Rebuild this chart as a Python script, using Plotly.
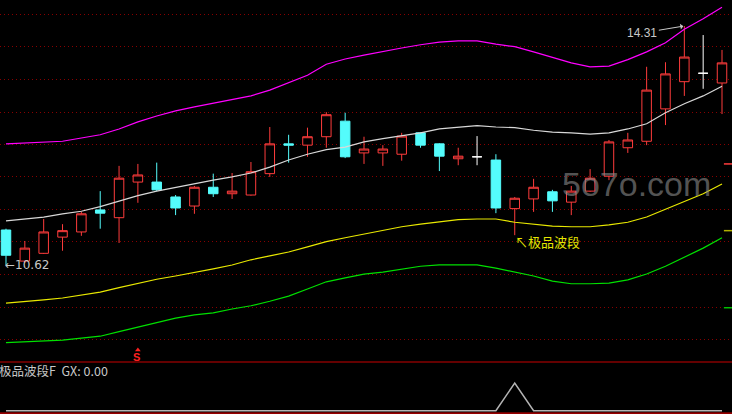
import plotly.graph_objects as go

# ---------------- data ----------------
idx = list(range(39))
open_ = [11.16, 10.68, 10.80, 11.05, 11.13, 11.47, 11.35, 11.90, 11.90, 11.67,
         11.53, 11.82, 11.72, 11.70, 12.03, 12.49, 12.47, 12.60, 12.84, 12.35,
         12.35, 12.33, 12.66, 12.49, 12.26, 12.29, 12.24, 11.49, 11.64, 11.75,
         11.59, 11.76, 11.99, 12.43, 12.53, 13.03, 13.45, 13.58, 13.43]
high = [11.18, 10.99, 11.33, 11.25, 11.44, 11.76, 12.15, 12.18, 12.20, 11.70,
        11.84, 12.03, 12.04, 12.21, 12.75, 12.63, 12.74, 12.98, 12.97, 12.60,
        12.47, 12.66, 12.67, 12.50, 12.43, 12.61, 12.33, 11.67, 11.95, 11.78,
        11.84, 12.10, 12.55, 12.66, 13.68, 13.75, 14.31, 14.17, 13.94]
low = [10.62, 10.65, 10.79, 10.84, 11.07, 11.18, 10.96, 11.58, 11.76, 11.39,
       11.41, 11.67, 11.64, 11.69, 11.98, 12.20, 12.29, 12.43, 12.27, 12.18,
       12.15, 12.23, 12.43, 12.07, 12.16, 12.16, 11.42, 11.08, 11.44, 11.44,
       11.39, 11.75, 11.93, 12.35, 12.47, 12.78, 13.23, 13.34, 12.95]
close = [10.77, 10.88, 11.13, 11.15, 11.41, 11.42, 11.96, 12.01, 11.78, 11.50,
         11.82, 11.72, 11.76, 12.06, 12.49, 12.47, 12.60, 12.94, 12.29, 12.41,
         12.41, 12.61, 12.47, 12.30, 12.30, 12.29, 11.50, 11.65, 11.82, 11.61,
         11.76, 11.96, 12.52, 12.55, 13.32, 13.57, 13.83, 13.58, 13.74]

mid_line = [11.30, 11.33, 11.36, 11.41, 11.45, 11.52, 11.61, 11.69, 11.76, 11.82,
            11.87, 11.93, 11.98, 12.04, 12.13, 12.24, 12.33, 12.40, 12.44, 12.52,
            12.57, 12.61, 12.66, 12.72, 12.75, 12.77, 12.75, 12.74, 12.70, 12.67,
            12.66, 12.64, 12.66, 12.72, 12.80, 12.97, 13.11, 13.23, 13.38]
upper_line = [12.49, 12.50, 12.52, 12.53, 12.58, 12.63, 12.72, 12.83, 12.92, 13.00,
              13.06, 13.12, 13.18, 13.23, 13.32, 13.43, 13.55, 13.72, 13.80, 13.86,
              13.92, 13.97, 14.02, 14.06, 14.08, 14.08, 14.03, 13.99, 13.91, 13.82,
              13.74, 13.68, 13.69, 13.79, 13.91, 14.05, 14.26, 14.42, 14.60]
lower_line = [10.03, 10.05, 10.08, 10.11, 10.16, 10.20, 10.27, 10.34, 10.40, 10.45,
              10.50, 10.56, 10.62, 10.70, 10.76, 10.82, 10.90, 10.98, 11.04, 11.10,
              11.15, 11.21, 11.25, 11.28, 11.32, 11.33, 11.33, 11.28, 11.25, 11.22,
              11.21, 11.21, 11.24, 11.28, 11.36, 11.48, 11.59, 11.72, 11.87]
bottom_line = [9.42, 9.43, 9.45, 9.46, 9.49, 9.52, 9.59, 9.66, 9.74, 9.80,
               9.85, 9.88, 9.94, 9.99, 10.06, 10.14, 10.25, 10.36, 10.42, 10.48,
               10.51, 10.56, 10.60, 10.62, 10.62, 10.62, 10.57, 10.51, 10.45, 10.37,
               10.33, 10.33, 10.34, 10.39, 10.48, 10.60, 10.74, 10.88, 11.04]
gx = [0] * 39
gx[27] = 1
sell_signal_idx = [7]

# short marks at the right edge (next-bar values)
edge_x = [38.1, 38.6]
edge_red = 12.18
edge_yellow = 11.15
edge_green = 9.96

grid_prices = [14.49, 13.99, 13.48, 12.98, 12.48, 11.98, 11.48, 10.98, 10.47, 9.97, 9.47]

# ---------------- figure ----------------
RED = "#ff3c3c"
CYAN = "#54fcfc"
W, H = 732, 414
split = 1 - 362 / H
ymin, ymax = 9.122, 14.711

fig = go.Figure()

groups = {"up": [], "down": [], "flat": []}
for i in idx:
    if close[i] > open_[i]:
        groups["up"].append(i)
    elif close[i] < open_[i]:
        groups["down"].append(i)
    else:
        groups["flat"].append(i)

styles = {"up": (RED, "#000000"), "down": (CYAN, CYAN), "flat": ("#ffffff", "#ffffff")}
for key, ids in groups.items():
    lc, fc = styles[key]
    fig.add_trace(go.Candlestick(
        x=ids,
        open=[open_[i] for i in ids], high=[high[i] for i in ids],
        low=[low[i] for i in ids], close=[close[i] for i in ids],
        increasing=dict(line=dict(color=lc, width=1), fillcolor=fc),
        decreasing=dict(line=dict(color=lc, width=1), fillcolor=fc),
        whiskerwidth=0, hoverinfo="skip", xaxis="x", yaxis="y",
    ))

for vals, col in [(upper_line, "#ff00ff"), (mid_line, "#d8d8d8"),
                  (lower_line, "#e8e800"), (bottom_line, "#00e000")]:
    fig.add_trace(go.Scatter(x=idx, y=vals, mode="lines",
                             line=dict(color=col, width=1.2),
                             hoverinfo="skip", xaxis="x", yaxis="y"))

for v, col in [(edge_red, "#ff3c3c"), (edge_yellow, "#b0b000"), (edge_green, "#00c000")]:
    fig.add_trace(go.Scatter(x=edge_x, y=[v, v], mode="lines",
                             line=dict(color=col, width=1.5),
                             hoverinfo="skip", xaxis="x", yaxis="y"))

# sell-signal cap (small triangle above the "S")
fig.add_trace(go.Scatter(x=sell_signal_idx, y=[ymin + (ymax - ymin) * (12 / 362)],
                         mode="markers",
                         marker=dict(symbol="triangle-up", size=5, color="#ff2020"),
                         hoverinfo="skip", xaxis="x", yaxis="y"))

fig.add_trace(go.Scatter(x=idx, y=gx, mode="lines",
                         line=dict(color="#b4b4b4", width=1.5),
                         hoverinfo="skip", xaxis="x2", yaxis="y2"))

xr = [-0.318, 38.53]
fig.update_layout(
    width=W, height=H, margin=dict(l=0, r=0, t=0, b=0),
    paper_bgcolor="#000000", plot_bgcolor="#000000",
    showlegend=False, boxgap=0.28,
    xaxis=dict(domain=[0, 1], range=xr, showgrid=False, zeroline=False,
               showticklabels=False, ticks="", rangeslider=dict(visible=False),
               anchor="y"),
    yaxis=dict(domain=[split, 1], range=[ymin, ymax], tickvals=grid_prices,
               showticklabels=False, ticks="", showgrid=True, gridcolor="#880000",
               griddash="1px,3px", gridwidth=1, zeroline=False),
    xaxis2=dict(domain=[0, 1], range=xr, showgrid=False, zeroline=False,
                showticklabels=False, ticks="", anchor="y2", matches="x"),
    yaxis2=dict(domain=[0, split], range=[-0.119, 1.758], showgrid=False,
                zeroline=False, showticklabels=False, ticks=""),
    font=dict(family="Liberation Sans, Arial, sans-serif"),
)

fig.add_shape(type="line", xref="paper", yref="paper", x0=0, x1=1, y0=split, y1=split,
              line=dict(color="#c80000", width=1.2))
fig.add_shape(type="line", xref="paper", yref="paper", x0=0, x1=1, y0=0.002, y1=0.002,
              line=dict(color="#c80000", width=1.2))

fig.add_annotation(x=36, y=14.31, xref="x", yref="y", text="14.31", showarrow=True,
                   ax=-42, ay=7, arrowhead=1, arrowsize=1, arrowwidth=1,
                   arrowcolor="#c8c8c8", standoff=1,
                   font=dict(color="#c8c8c8", size=12))
fig.add_annotation(x=0, y=10.62, xref="x", yref="y", text="←10.62", showarrow=False,
                   xanchor="left", yanchor="middle", xshift=-3,
                   font=dict(color="#c8c8c8", size=12, family="DejaVu Sans, sans-serif"))
fig.add_annotation(x=27, y=low[27], xref="x", yref="y", text="↖极品波段", showarrow=False,
                   xanchor="left", yanchor="middle", xshift=-2, yshift=-6,
                   font=dict(color="#e6e600", size=13, family="Noto Sans CJK SC"))
fig.add_annotation(x=0.870, y=1 - 184 / H, xref="paper", yref="paper", text="5o7o.com",
                   showarrow=False, xanchor="center", yanchor="middle",
                   font=dict(color="rgba(140,140,140,0.6)", size=34,
                             family="Liberation Sans, Arial, sans-serif"))
fig.add_annotation(x=sell_signal_idx[0], y=1 - 357 / H, xref="x", yref="paper",
                   text="<b>S</b>", showarrow=False, xanchor="center", yanchor="middle",
                   xshift=-1, font=dict(color="#ff2020", size=11))
fig.add_annotation(x=0, y=1 - 370 / H, xref="paper", yref="paper",
                   text="极品波段F&nbsp;&nbsp;GX: 0.00", showarrow=False,
                   xanchor="left", yanchor="middle", xshift=-3,
                   font=dict(color="#c8c8c8", size=12.5,
                             family="Noto Sans CJK SC, Liberation Sans, sans-serif"))

fig.write_html("out.html", config={"displayModeBar": False},
               post_script="document.body.style.margin='0';"
                           "document.body.style.background='#000';")
